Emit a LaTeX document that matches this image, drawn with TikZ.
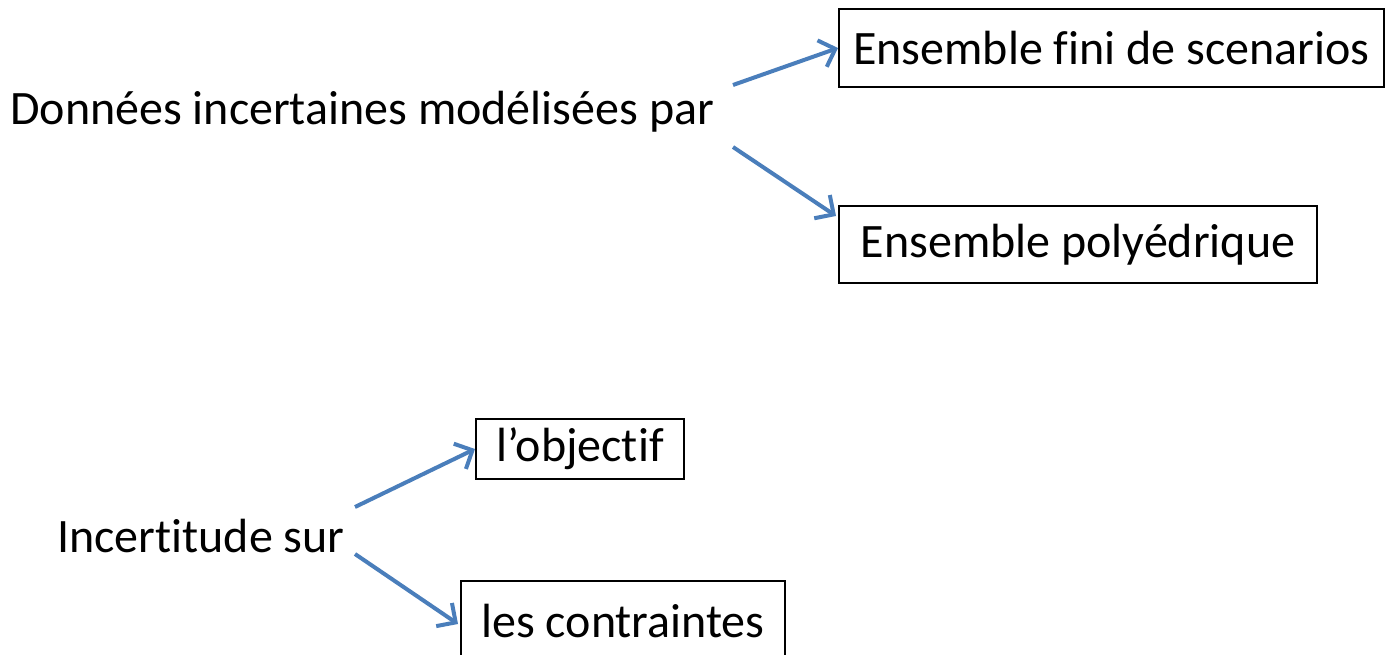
\documentclass[tikz,border=0pt]{standalone}
\usepackage{fontspec}
\setmainfont[Ligatures={NoCommon}]{Carlito}
\usetikzlibrary{arrows.meta}
\definecolor{arrowblue}{RGB}{74,126,187}
\tikzset{
  box/.style={draw=black, line width=2pt, anchor=north west, inner sep=0pt, font=\fontsize{48}{58}\selectfont},
  lbl/.style={anchor=west, inner sep=0pt, font=\fontsize{48}{58}\selectfont},
  conn/.style={draw=arrowblue, line width=4pt, -{Straight Barb[length=14pt,width=28pt,line width=4pt]}}
}
\begin{document}
\begin{tikzpicture}[x=1pt,y=-1pt]
\useasboundingbox (0,0) rectangle (1385,655);
\node[lbl] (d) at (10,112) {Données incertaines modélisées par};
\node[lbl] (i) at (57,536) {Incertitude sur};
\node[box, minimum width=545pt, minimum height=78pt] (b1) at (838,8) {Ensemble fini de scenarios};
\node[box, minimum width=478pt, minimum height=77pt] (b2) at (838,205) {Ensemble polyédrique};
\node[box, minimum width=208pt, minimum height=60pt] (b3) at (475,418) {l’objectif};
\node[box, minimum width=324pt, minimum height=80pt] (b4) at (460,580) {les contraintes};
\coordinate (s1) at (733,85);
\coordinate (s2) at (733,147);
\coordinate (s3) at (355,507);
\coordinate (s4) at (355,554);
\coordinate (e2) at (836,216);
\coordinate (e4) at (458,624);
\draw[conn] (s1) -- (b1.west);
\draw[conn] (s2) -- (e2);
\draw[conn] (s3) -- (b3.west);
\draw[conn] (s4) -- (e4);
\end{tikzpicture}
\end{document}
